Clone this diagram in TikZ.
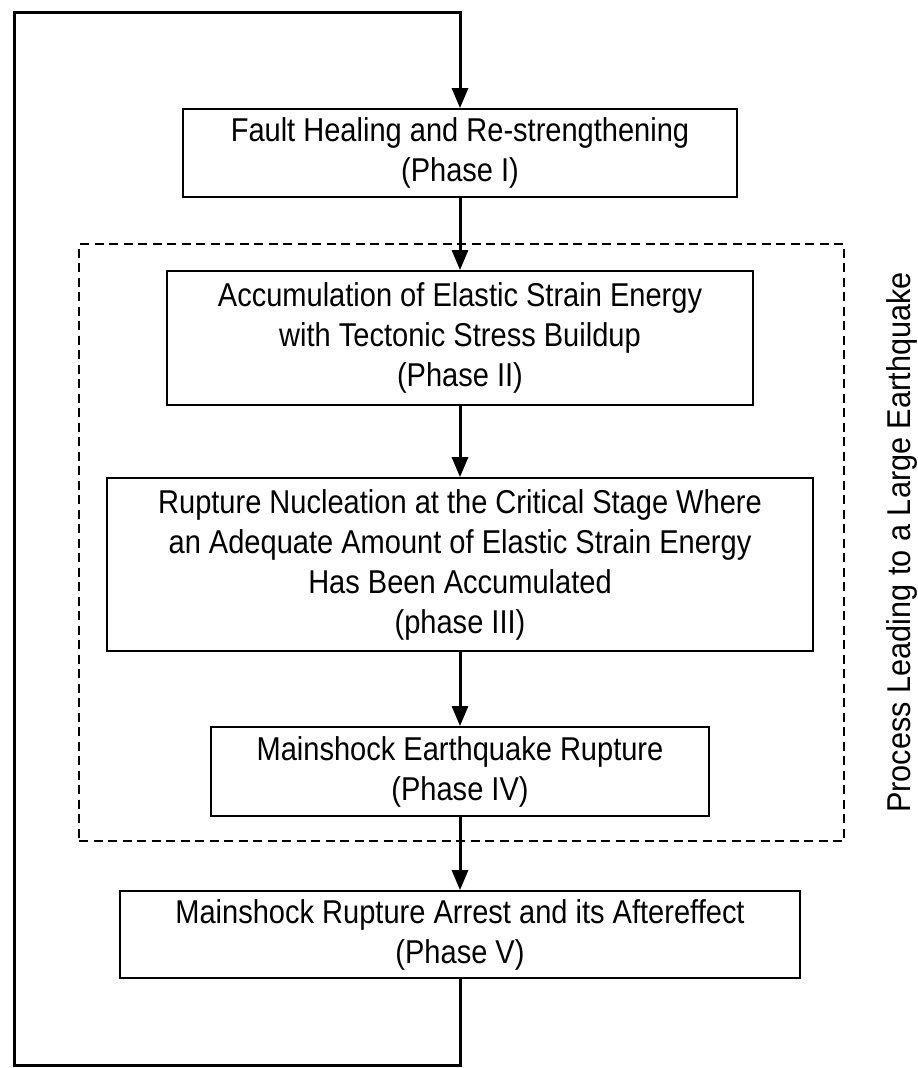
\documentclass[tikz,border=0pt]{standalone}
\usepackage{fontspec}
\setmainfont{Liberation Sans}
\newfontfamily\narrowfont[FakeStretch=0.88]{Liberation Sans}
\newfontfamily\sidefont[FakeStretch=0.93]{Liberation Sans}
\usetikzlibrary{arrows.meta}
\begin{document}
\begin{tikzpicture}[x=1pt,y=-1pt,
  phasebox/.style={draw=black, line width=1.8pt, align=center,
    font=\narrowfont\fontsize{33}{40}\selectfont, inner sep=0pt},
  flow/.style={line width=3pt, line join=miter,
    -{Triangle[length=20pt,width=16pt]}},
  groupbox/.style={draw=black, line width=1.8pt, dash pattern=on 9pt off 5.5pt,
    inner sep=0pt},
  sidelabel/.style={rotate=90, anchor=base west, inner sep=0pt,
    font=\sidefont\fontsize{33}{40}\selectfont},
]
\useasboundingbox (0,0) rectangle (918,1068);

\node[groupbox, minimum width=765pt, minimum height=597pt] (group) at (461.5,542.5) {};

\node[phasebox, minimum width=554pt, minimum height=88pt] (p1) at (460,153)
  {Fault Healing and Re-strengthening\\(Phase I)};
\node[phasebox, minimum width=586pt, minimum height=134pt] (p2) at (460,338)
  {Accumulation of Elastic Strain Energy\\with Tectonic Stress Buildup\\(Phase II)};
\node[phasebox, minimum width=706pt, minimum height=173pt] (p3) at (460,564.5)
  {Rupture Nucleation at the Critical Stage Where\\an Adequate Amount of Elastic Strain Energy\\Has Been Accumulated\\(phase III)};
\node[phasebox, minimum width=498pt, minimum height=89pt] (p4) at (460,771.5)
  {Mainshock Earthquake Rupture\\(Phase IV)};
\node[phasebox, minimum width=680pt, minimum height=87pt] (p5) at (460,934.5)
  {Mainshock Rupture Arrest and its Aftereffect\\(Phase V)};

\node[sidelabel] (label) at (910,813) {Process Leading to a Large Earthquake};

\coordinate (bl) at (14,1065);
\coordinate (tl) at (14,12);

\draw[flow] (p1) -- (p2);
\draw[flow] (p2) -- (p3);
\draw[flow] (p3) -- (p4);
\draw[flow] (p4) -- (p5);
\draw[flow] (p5.south) |- (bl) -- (tl) -| (p1.north);
\end{tikzpicture}
\end{document}
